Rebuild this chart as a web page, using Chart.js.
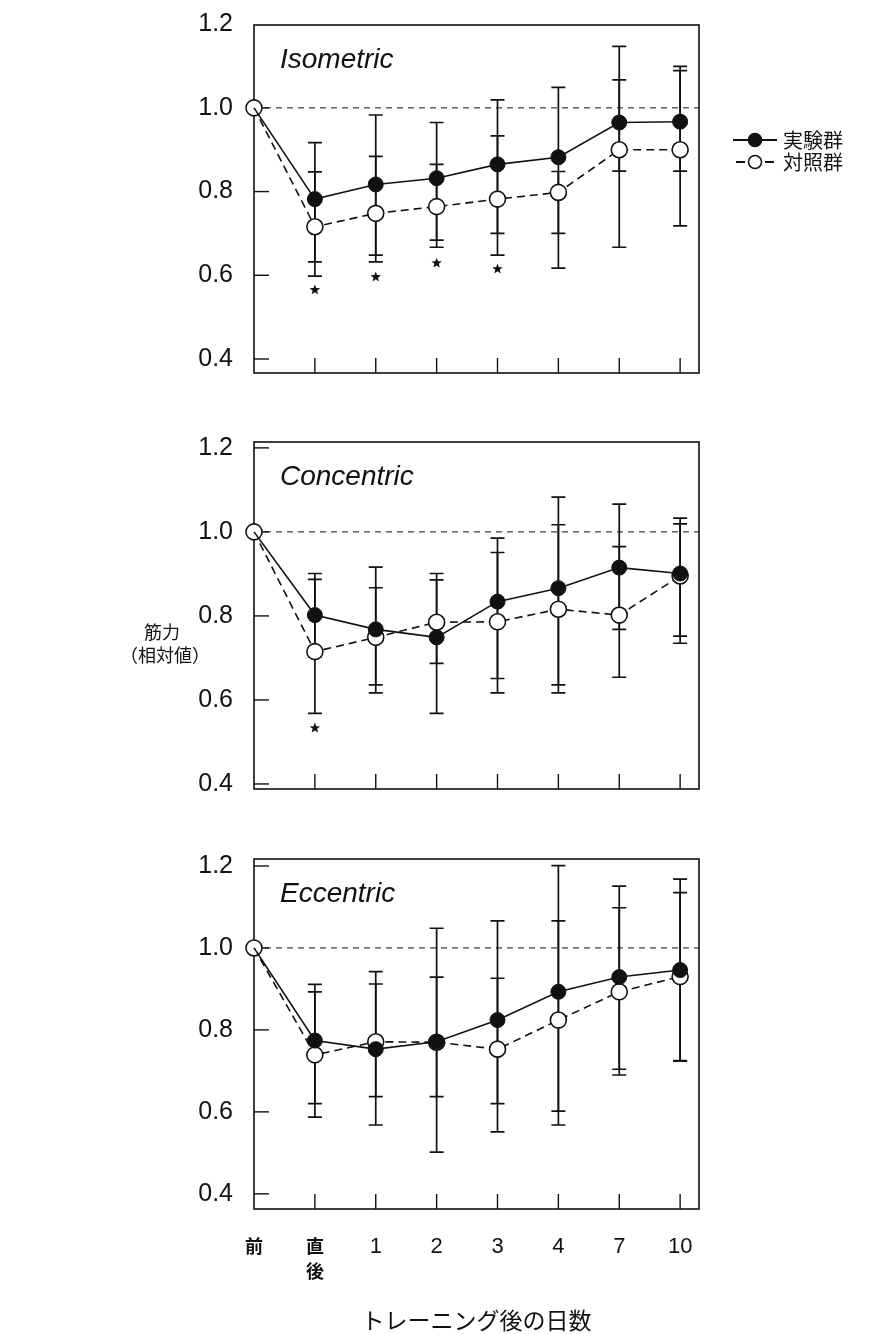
<!DOCTYPE html>
<html><head><meta charset="utf-8">
<script src="https://cdn.jsdelivr.net/npm/chart.js@4.4.1/dist/chart.umd.min.js"></script>
<style>
html,body{margin:0;padding:0;background:#fff;}
#wrap{position:relative;width:891px;height:1334px;overflow:hidden;background:#fff;}
canvas{position:absolute;left:0;}
</style></head><body><div id="wrap">
<canvas id="c1" width="891" height="440" style="top:-20px"></canvas>
<canvas id="c2" width="891" height="460" style="top:380px"></canvas>
<canvas id="c3" width="891" height="534" style="top:800px"></canvas>
</div>
<script>
// ---------- data ----------
const categories = ['前', ['直', '後'], '1', '2', '3', '4', '7', '10'];
const yTicks = [0.4, 0.6, 0.8, 1.0, 1.2];
const yTickLabels = ['0.4', '0.6', '0.8', '1.0', '1.2'];
const seriesNames = ['実験群', '対照群'];
const panelTitles = ['Isometric', 'Concentric', 'Eccentric'];
const xTitle = 'トレーニング後の日数';
const yTitle = ['筋力', '（相対値）'];
const refValue = 1.0;

// Isometric
const isoExp   = [1.0, 0.782, 0.817, 0.832, 0.865, 0.882, 0.965, 0.967];
const isoExpLo = [null, 0.632, 0.648, 0.684, 0.700, 0.700, 0.849, 0.849];
const isoExpHi = [null, 0.917, 0.983, 0.965, 1.019, 1.049, 1.067, 1.099];
const isoCon   = [1.0, 0.716, 0.748, 0.764, 0.782, 0.798, 0.900, 0.900];
const isoConLo = [null, 0.598, 0.632, 0.667, 0.648, 0.617, 0.667, 0.718];
const isoConHi = [null, 0.847, 0.884, 0.865, 0.933, 0.848, 1.147, 1.089];
const isoStars = [null, 0.565, 0.596, 0.629, 0.615, null, null, null];

// Concentric
const conExp   = [1.0, 0.802, 0.768, 0.749, 0.834, 0.866, 0.915, 0.901];
const conExpLo = [null, 0.703, 0.617, 0.568, 0.651, 0.636, 0.768, 0.752];
const conExpHi = [null, 0.901, 0.916, 0.901, 0.985, 1.083, 1.066, 1.033];
const conCon   = [1.0, 0.715, 0.749, 0.785, 0.786, 0.816, 0.802, 0.895];
const conConLo = [null, 0.568, 0.636, 0.687, 0.617, 0.617, 0.654, 0.735];
const conConHi = [null, 0.887, 0.867, 0.886, 0.951, 1.017, 0.965, 1.019];
const conStars = [null, 0.533, null, null, null, null, null, null];

// Eccentric
const eccExp   = [1.0, 0.774, 0.753, 0.771, 0.824, 0.893, 0.929, 0.946];
const eccExpLo = [null, 0.620, 0.568, 0.502, 0.620, 0.568, 0.704, 0.724];
const eccExpHi = [null, 0.911, 0.942, 1.048, 1.066, 1.201, 1.151, 1.168];
const eccCon   = [1.0, 0.739, 0.771, 0.770, 0.753, 0.824, 0.893, 0.930];
const eccConLo = [null, 0.587, 0.637, 0.637, 0.551, 0.602, 0.690, 0.725];
const eccConHi = [null, 0.893, 0.912, 0.929, 0.926, 1.066, 1.098, 1.135];
const eccStars = [null, null, null, null, null, null, null, null];

// ---------- style ----------
const INK = '#111';
const LATIN = '"Liberation Sans", Arial, sans-serif';
const CJK = '"Noto Sans CJK JP", "Noto Sans CJK SC", sans-serif';

function drawStar(ctx, cx, cy, R, r) {
  ctx.beginPath();
  for (let k = 0; k < 10; k++) {
    const ang = -Math.PI / 2 + k * Math.PI / 5;
    const rad = k % 2 ? r : R;
    ctx.lineTo(cx + rad * Math.cos(ang), cy + rad * Math.sin(ang));
  }
  ctx.closePath();
  ctx.fill();
}

const decoPlugin = {
  id: 'deco',
  beforeDatasetsDraw(chart, args, o) {
    const {ctx, chartArea: a, scales: {x, y}} = chart;
    ctx.save();
    ctx.strokeStyle = INK; ctx.fillStyle = INK;
    // frame
    ctx.setLineDash([]);
    ctx.lineWidth = 1.6;
    ctx.strokeRect(a.left, a.top, a.right - a.left, a.bottom - a.top);
    // inward y ticks
    ctx.lineWidth = 1.4;
    yTicks.forEach(v => {
      const py = y.getPixelForValue(v);
      if (py < a.top + 2 || py > a.bottom - 2) return;
      ctx.beginPath(); ctx.moveTo(a.left, py); ctx.lineTo(a.left + 15, py); ctx.stroke();
    });
    // inward x ticks
    categories.forEach((c, i) => {
      if (i === 0) return;
      const px = x.getPixelForValue(i);
      ctx.beginPath(); ctx.moveTo(px, a.bottom); ctx.lineTo(px, a.bottom - 15); ctx.stroke();
    });
    // reference line
    ctx.lineWidth = 1;
    ctx.setLineDash([6, 5]);
    const yr = y.getPixelForValue(refValue);
    ctx.beginPath(); ctx.moveTo(a.left, yr); ctx.lineTo(a.right, yr); ctx.stroke();
    ctx.setLineDash([]);
    // error bars
    ctx.lineWidth = 1.7;
    o.bars.forEach(([lo, hi]) => {
      lo.forEach((l, i) => {
        if (l == null || hi[i] == null) return;
        const px = x.getPixelForValue(i);
        const p1 = y.getPixelForValue(l), p2 = y.getPixelForValue(hi[i]);
        ctx.beginPath();
        ctx.moveTo(px, p1); ctx.lineTo(px, p2);
        ctx.moveTo(px - 7, p1); ctx.lineTo(px + 7, p1);
        ctx.moveTo(px - 7, p2); ctx.lineTo(px + 7, p2);
        ctx.stroke();
      });
    });
    // significance stars
    o.stars.forEach((v, i) => {
      if (v == null) return;
      drawStar(ctx, x.getPixelForValue(i), y.getPixelForValue(v), 5.5, 2.3);
    });
    ctx.restore();
  },
  afterDraw(chart, args, o) {
    const {ctx, chartArea: a} = chart;
    ctx.save();
    ctx.fillStyle = INK; ctx.strokeStyle = INK;
    // panel title
    ctx.font = 'italic 28px ' + LATIN;
    ctx.textAlign = 'left'; ctx.textBaseline = 'middle';
    ctx.fillText(o.title, a.left + 26, a.top + 35);
    // legend (right of the top panel)
    if (o.legend) {
      const rows = [a.top + 115, a.top + 137];
      seriesNames.forEach((name, k) => {
        const yy = rows[k];
        ctx.lineWidth = 1.8;
        ctx.beginPath();
        if (k === 0) { ctx.moveTo(733, yy); ctx.lineTo(777, yy); }
        else { ctx.moveTo(736, yy); ctx.lineTo(745, yy); ctx.moveTo(765, yy); ctx.lineTo(774, yy); }
        ctx.stroke();
        ctx.beginPath(); ctx.arc(755, yy, 6.5, 0, Math.PI * 2);
        ctx.fillStyle = k === 0 ? INK : '#fff';
        ctx.fill(); ctx.lineWidth = 1.5; ctx.stroke();
        ctx.fillStyle = INK;
        ctx.font = '20px ' + CJK;
        ctx.textAlign = 'left'; ctx.textBaseline = 'middle';
        ctx.fillText(name, 783, yy);
      });
    }
    // y-axis title (beside the middle panel)
    if (o.yTitle) {
      ctx.font = '18px ' + CJK;
      ctx.textAlign = 'center'; ctx.textBaseline = 'middle';
      ctx.fillText(yTitle[0], 162, a.top + 190);
      ctx.fillText(yTitle[1], 165, a.top + 213);
    }
    ctx.restore();
  }
};

function makePanel(id, cfg) {
  return new Chart(document.getElementById(id), {
    type: 'line',
    data: {
      datasets: [
        {
          label: seriesNames[0],
          data: cfg.exp.map((v, i) => ({x: i, y: v})),
          borderColor: INK, borderWidth: 1.6,
          pointBackgroundColor: INK, pointBorderColor: INK, pointBorderWidth: 1,
          pointRadius: c => (c.dataIndex === 0 ? 0 : 7.5),
          tension: 0, clip: false
        },
        {
          label: seriesNames[1],
          data: cfg.con.map((v, i) => ({x: i, y: v})),
          borderColor: INK, borderWidth: 1.6, borderDash: [8, 5],
          pointBackgroundColor: '#fff', pointBorderColor: INK, pointBorderWidth: 1.6,
          pointRadius: 8,
          tension: 0, clip: false
        }
      ]
    },
    options: {
      responsive: false, animation: false, devicePixelRatio: 1,
      layout: {padding: {top: cfg.padTop, right: 192, left: 0, bottom: 0}},
      plugins: {
        legend: {display: false}, tooltip: {enabled: false},
        deco: {title: cfg.title, bars: cfg.bars, stars: cfg.stars, legend: cfg.legend, yTitle: cfg.yTitle}
      },
      scales: {
        x: {
          type: 'linear', min: 0, max: 7.31,
          grid: {display: false, drawTicks: false}, border: {display: false},
          afterBuildTicks: s => { s.ticks = categories.map((c, i) => ({value: i})); },
          ticks: {
            display: cfg.showX, autoSkip: false, maxRotation: 0, padding: 25,
            color: INK,
            font: c => (c.index <= 1
              ? {family: CJK, size: 18, weight: 'bold', lineHeight: '25px'}
              : {family: LATIN, size: 22, lineHeight: '25px'}),
            callback: (v, i) => categories[i]
          },
          title: {
            display: cfg.showX, text: xTitle, color: INK,
            font: {family: CJK, size: 23, lineHeight: 1.2}, padding: {top: 0, bottom: 0}
          },
          afterFit: s => { s.height = cfg.xAxisH; }
        },
        y: {
          min: cfg.yMin, max: cfg.yMax,
          grid: {display: false, drawTicks: false}, border: {display: false},
          afterBuildTicks: s => { s.ticks = yTicks.map(v => ({value: v})); },
          ticks: {
            padding: 21, color: INK,
            font: {family: LATIN, size: 25},
            callback: (v, i) => yTickLabels[i]
          },
          afterFit: s => { s.width = 254; }
        }
      }
    },
    plugins: [decoPlugin]
  });
}

// canvas c1: page top -20, c2: 380, c3: 800
makePanel('c1', {
  title: panelTitles[0], exp: isoExp, con: isoCon,
  bars: [[isoExpLo, isoExpHi], [isoConLo, isoConHi]], stars: isoStars,
  yMin: 0.3665, yMax: 1.198, padTop: 45, xAxisH: 47, showX: false, legend: true, yTitle: false
});
makePanel('c2', {
  title: panelTitles[1], exp: conExp, con: conCon,
  bars: [[conExpLo, conExpHi], [conConLo, conConHi]], stars: conStars,
  yMin: 0.388, yMax: 1.214, padTop: 62, xAxisH: 51, showX: false, legend: false, yTitle: true
});
makePanel('c3', {
  title: panelTitles[2], exp: eccExp, con: eccCon,
  bars: [[eccExpLo, eccExpHi], [eccConLo, eccConHi]], stars: eccStars,
  yMin: 0.363, yMax: 1.217, padTop: 59, xAxisH: 125, showX: true, legend: false, yTitle: false
});
</script>
</body></html>
